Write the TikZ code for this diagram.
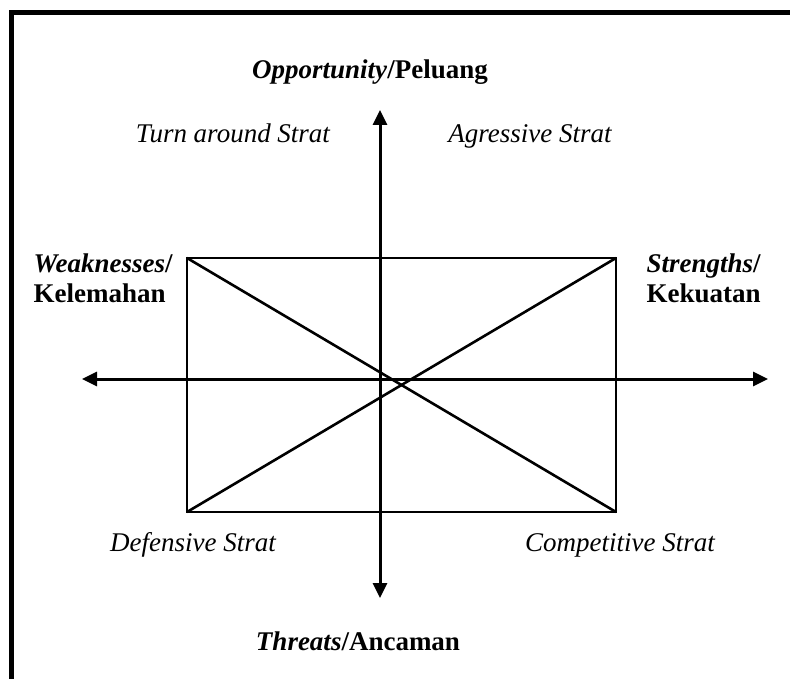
\documentclass[tikz,border=0pt]{standalone}
\usepackage{fontspec}
\setmainfont{Liberation Serif}
\usetikzlibrary{arrows.meta,positioning}

\begin{document}
\begin{tikzpicture}[x=1pt,y=-1pt,
  axis/.style={line width=3pt, -{Triangle[length=15pt,width=14pt]}},
  edge/.style={line width=2.6pt},
  strat/.style={font=\fontsize{27}{30}\selectfont\itshape, anchor=base},
  pole/.style={font=\fontsize{27}{30}\selectfont\bfseries, anchor=base},
  side/.style={font=\fontsize{27}{30}\selectfont\bfseries, align=left, anchor=west}]
  \clip (0,0) rectangle (790,679);
  \useasboundingbox (0,0) rectangle (790,679);
  \draw[line width=5pt] (11,13) rectangle (830,720);
  % axes
  \coordinate (o) at (380,379);
  \coordinate (left) at (82,379);
  \coordinate (right) at (768,379);
  \coordinate (top) at (380,110);
  \coordinate (bottom) at (380,598);
  \draw[axis] (o) -- (left);
  \draw[axis] (o) -- (right);
  \draw[axis] (o) -- (top);
  \draw[axis] (o) -- (bottom);
  % box and diagonals
  \coordinate (nw) at (187,258);
  \coordinate (ne) at (616,258);
  \coordinate (se) at (616,512);
  \coordinate (sw) at (187,512);
  \draw[edge] (nw) -- (ne) -- (se) -- (sw) -- cycle;
  \draw[edge] (nw) -- (se);
  \draw[edge] (sw) -- (ne);
  % labels
  \node[pole] (opp) at (370,79) {\textit{Opportunity}/Peluang};
  \node[pole] (thr) at (358,650) {\textit{Threats}/Ancaman};
  \node[side] (weak) at (30,278) {\textit{Weaknesses}/\\Kelemahan};
  \node[side] (str) at (643,278) {\textit{Strengths}/\\Kekuatan};
  \node[strat] (turn) at (233,143) {Turn around Strat};
  \node[strat] (agr) at (530,143) {Agressive Strat};
  \node[strat] (def) at (193,551) {Defensive Strat};
  \node[strat] (comp) at (620,551) {Competitive Strat};
\end{tikzpicture}
\end{document}
